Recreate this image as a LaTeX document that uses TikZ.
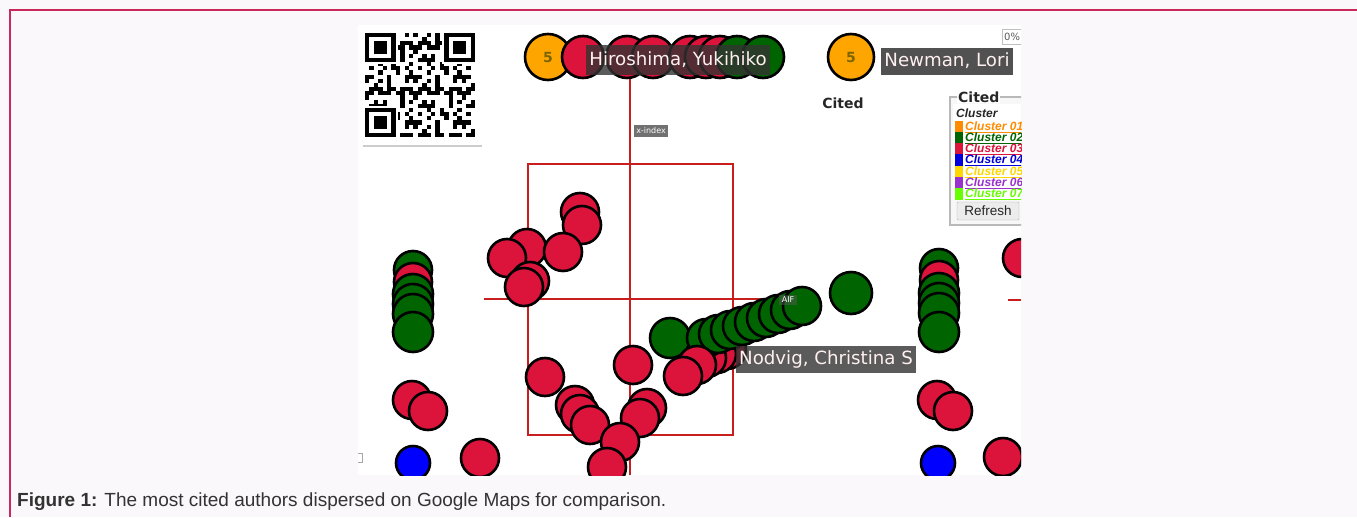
\documentclass[tikz,border=0pt]{standalone}
\usepackage{fontspec}
\setmainfont{Liberation Sans}
\newfontfamily\dv{DejaVu Sans}
\definecolor{framec}{HTML}{C8285A}
\definecolor{pagebg}{HTML}{FAF8FA}
\definecolor{mapred}{HTML}{DC143C}
\definecolor{mapgreen}{HTML}{006400}
\definecolor{maporange}{HTML}{FFA500}
\definecolor{mapblue}{HTML}{0000FF}
\definecolor{gridred}{HTML}{C81E1E}
\definecolor{labbg}{HTML}{333333}
\definecolor{capc}{HTML}{333333}
\definecolor{lgorange}{HTML}{FF8C00}
\definecolor{lggreen}{HTML}{006400}
\definecolor{lgred}{HTML}{DC143C}
\definecolor{lgblue}{HTML}{0000DD}
\definecolor{lggold}{HTML}{FFD700}
\definecolor{lgpurple}{HTML}{9932CC}
\definecolor{lglime}{HTML}{66FF00}
\definecolor{fivec}{HTML}{7A6500}
\tikzset{
  mc/.style={circle, draw=black, line width=2.6pt, inner sep=0pt, minimum size=38pt},
  rc/.style={mc, fill=mapred},
  gc/.style={mc, fill=mapgreen},
  bc/.style={mc, fill=mapblue, minimum size=34pt},
  oc/.style={mc, fill=maporange, minimum size=46pt, font=\dv\bfseries\fontsize{14}{14}\selectfont, text=fivec},
  tc/.style={mc, minimum size=42pt},
  namelab/.style={fill=labbg, fill opacity=0.8, text opacity=1, text=white!94!red, inner sep=3pt, font=\dv\fontsize{18.2}{18.2}\selectfont, minimum height=27pt},
  tinylab/.style={fill=gray!70!black, fill opacity=0.85, text opacity=1, text=white, inner sep=2.5pt, font=\dv\fontsize{8}{8}\selectfont},
  gridline/.style={draw=gridred, line width=2.6pt},
  lgtext/.style={anchor=west, inner sep=0pt, font=\fontsize{12}{12}\selectfont\bfseries\itshape},
}
\begin{document}
\begin{tikzpicture}[x=1pt,y=-1pt]
\useasboundingbox (0,0) rectangle (1357,517);
\fill[pagebg] (0,0) rectangle (1357,517);
\draw[framec, line width=2pt] (9.5,517) -- (9.5,10) -- (1357,10);
% screenshot
\fill[white] (358,25) rectangle (1021,475);
\begin{scope}
\clip (358,25) rectangle (1021,475);
% QR code
\begin{scope}[shift={(365,33)}]
  \foreach \i in {0,...,24}{
    \foreach \j in {0,...,24}{
      \pgfmathtruncatemacro\v{mod(\i*\i*7+\j*13+\i*\j*5+3*\j*\j+\i,11)}
      \ifnum\v<5
        \fill[black] (\i*4.4,\j*4.16) rectangle ++(4.4,4.16);
      \fi
    }
  }
  \foreach \a/\b in {0/0,18/0,0/18}{
    \fill[white] (\a*4.4-2,\b*4.16-2) rectangle ++(7*4.4+4.4,7*4.16+4.16);
    \fill[black] (\a*4.4,\b*4.16) rectangle ++(7*4.4,7*4.16);
    \fill[white] (\a*4.4+4.4,\b*4.16+4.16) rectangle ++(5*4.4,5*4.16);
    \fill[black] (\a*4.4+8.8,\b*4.16+8.32) rectangle ++(3*4.4,3*4.16);
  }
\end{scope}
\draw[gray!40, line width=2pt] (363,146) -- (482,146);
% grid lines
\draw[gridline] (630,75) -- (630,475);
\draw[gridline] (528,164) rectangle (733,435);
\draw[gridline] (484,299) -- (790,299);
\draw[gridline] (1008,300) -- (1021,300);
\node[tinylab] (xidx) at (651,131) {x-index};
% top row
\node[oc] (o1) at (548,57) {5};
\foreach \x [count=\k] in {583,627,653,690,706,720}
  \node[tc, fill=mapred] (tr\k) at (\x,57) {};
\foreach \x [count=\k] in {737,763}
  \node[tc, fill=mapgreen] (tg\k) at (\x,57) {};
\node[namelab, minimum height=30pt] (hiro) at (678,60) {Hiroshima, Yukihiko};
% top right
\node[oc] (o2) at (851,57) {5};
\node[namelab, fill opacity=0.85] (newman) at (947,61) {Newman, Lori};
\node[font=\dv\bfseries\fontsize{14}{14}\selectfont, text=black!85] (cited) at (843,103) {Cited};
\node[draw=gray!50, fill=white, inner sep=2pt, minimum height=15pt, font=\dv\fontsize{10}{10}\selectfont, text=gray!70!black, anchor=west] (pct) at (1002,37) {0\%};
% legend panel
\draw[gray!55, line width=1.5pt, fill=gray!6] (950,97) rectangle (1040,225);
\fill[white] (953,104) rectangle (1040,200);
\node[fill=white, inner sep=1pt, font=\dv\bfseries\fontsize{14}{14}\selectfont, text=black!85, anchor=west] (ltitle) at (957,97) {Cited};
\node[lgtext, text=black!85] (lhead) at (956,113) {Cluster};
\foreach \c/\n/\yy in {lgorange/01/127,lggreen/02/138,lgred/03/149,lgblue/04/160,lggold/05/172,lgpurple/06/183,lglime/07/194}{
  \fill[\c] (955,\yy-5.6) rectangle (963,\yy+5.6);
  \node[lgtext, text=\c] (lg\n) at (965,\yy) {\underline{Cluster\ \n}};
}
\node[draw=gray!60, fill=gray!15, rounded corners=1pt, minimum width=62pt, minimum height=18pt, inner sep=1pt, font=\fontsize{13.5}{13.5}\selectfont, text=black!85] (refresh) at (988,211) {Refresh};
% upper-left cluster
\foreach \x/\y [count=\k] in {580/212,582/225,527/248,507/258,563/252,530/281,524/287}
  \node[rc] (ul\k) at (\x,\y) {};
% left column
\node[gc] (lc1) at (413,270) {};
\node[rc] (lc2) at (413,282) {};
\foreach \y [count=\k from 3] in {294,304,314,332}
  \node[gc, minimum size=40pt] (lc\k) at (413,\y) {};
\node[rc] (lp1) at (412,400) {};
\node[rc] (lp2) at (428,411) {};
\node[bc] (lb) at (413,463) {};
\node[rc] (lr) at (480,458) {};
% right column
\node[gc] (rc1) at (939,268) {};
\node[rc] (rc2) at (939,280) {};
\foreach \y [count=\k from 3] in {293,303,313,332}
  \node[gc, minimum size=40pt] (rc\k) at (939,\y) {};
\node[rc] (rp1) at (937,400) {};
\node[rc] (rp2) at (953,411) {};
\node[bc] (rb) at (938,463) {};
\node[rc] (rr) at (1003,457) {};
\node[rc] (rt) at (1022,258) {};
% lower middle
\node[rc] (lm1) at (545,377) {};
\node[rc] (lm2) at (633,365) {};
\foreach \x/\y [count=\k] in {575/405,580/414,590/425,647/408,640/418,620/442,607/467}
  \node[rc] (v\k) at (\x,\y) {};
% chain
\node[gc, minimum size=40pt] (g0) at (670,338) {};
\foreach \x/\y [count=\k] in {727/350,717/354,707/358}
  \node[rc] (cr\k) at (\x,\y) {};
\foreach \i in {0,...,8}
  \node[gc] (gch\i) at (706+12*\i,338-4*\i) {};
\node[tinylab, fill opacity=0.5] (aif) at (788,300) {AIF};
\foreach \x/\y [count=\k] in {697/365,683/376}
  \node[rc] (crr\k) at (\x,\y) {};
\node[gc, minimum size=42pt] (gsolo) at (851,293) {};
\node[namelab] (nodvig) at (826,359) {Nodvig, Christina S};
% small artifact
\draw[gray!70, line width=1pt] (358,453) -- (362,453) -- (362,462) -- (358,462);
\end{scope}
% caption
\node[anchor=base west, inner sep=0pt, font=\fontsize{19}{22}\selectfont, text=capc] (cap) at (17,506) {\textbf{Figure 1:} The most cited authors dispersed on Google Maps for comparison.};
\end{tikzpicture}
\end{document}
